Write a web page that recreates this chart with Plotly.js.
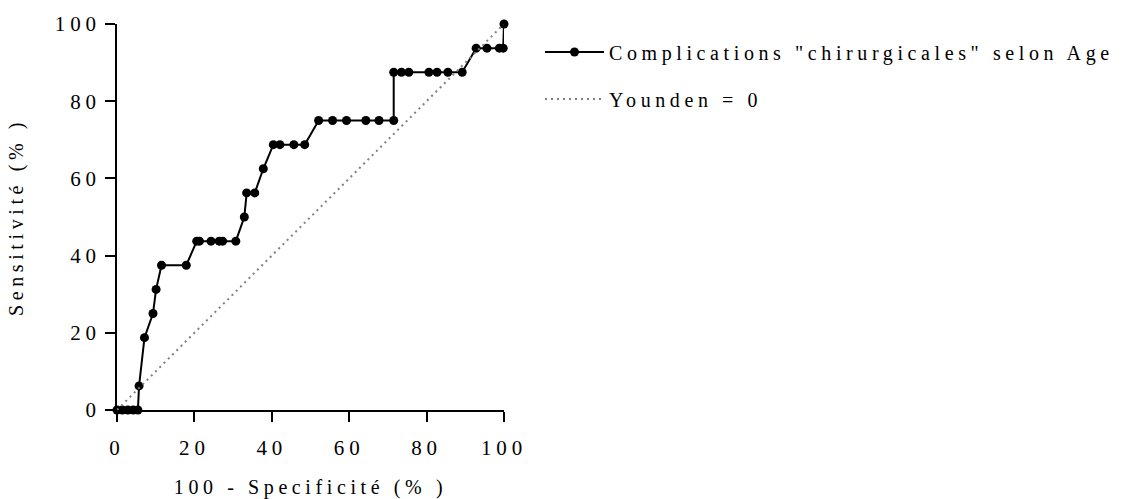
<!DOCTYPE html>
<html>
<head>
<meta charset="utf-8">
<script src="https://cdn.plot.ly/plotly-3.0.1.min.js"></script>
<style>
  html, body { margin: 0; padding: 0; background: #fff; }
  #chart { width: 1141px; height: 499px; }
  svg text { letter-spacing: 0.23em; }
</style>
</head>
<body>
<div id="chart"></div>
<script>
// ROC curve: 100 - Specificity (%) vs Sensitivity (%)
const fpr = [0, 1.4, 2.8, 4.2, 5.4, 5.7, 7.1, 9.3, 10.1, 11.5,
             17.9, 20.6, 21.3, 24.3, 26.4, 27.3, 30.7, 32.9, 33.5, 35.6,
             37.8, 40.4, 42.1, 45.7, 48.5, 52.1, 55.7, 59.3, 64.3, 67.7,
             71.5, 71.5, 73.5, 75.4, 80.6, 82.7, 85.5, 89.2, 92.8, 95.6,
             98.8, 99.8, 100];
const sens = [0, 0, 0, 0, 0, 6.25, 18.75, 25, 31.25, 37.5,
              37.5, 43.75, 43.75, 43.75, 43.75, 43.75, 43.75, 50, 56.25, 56.25,
              62.5, 68.75, 68.75, 68.75, 68.75, 75, 75, 75, 75, 75,
              75, 87.5, 87.5, 87.5, 87.5, 87.5, 87.5, 87.5, 93.75, 93.75,
              93.75, 93.75, 100];
const refX = [0, 100];
const refY = [0, 100];
const tickVals = [0, 20, 40, 60, 80, 100];
const tickText = ["0", "20", "40", "60", "80", "100"];
const seriesName = 'Complications "chirurgicales" selon Age';
const refName = "Younden = 0";
const xTitle = "100 - Specificité (% )";
const yTitle = "Sensitivité (% )";

const FONT = "Liberation Serif, Times New Roman, serif";
const W = 1141, H = 499;
const M = { l: 117, r: 637, t: 24, b: 89 };
const PW = W - M.l - M.r, PH = H - M.t - M.b;

const traces = [
  {
    x: fpr, y: sens, type: "scatter", mode: "lines+markers",
    name: seriesName, legend: "legend",
    line: { color: "#000", width: 2 },
    marker: { color: "#000", size: 9 },
    cliponaxis: false
  },
  {
    x: refX, y: refY, type: "scatter", mode: "lines",
    name: refName, legend: "legend2",
    line: { color: "#808080", width: 2, dash: "2px,4px" },
    cliponaxis: false
  }
];

function makeAxis(titleText, labelGap, titleGap) {
  return {
    range: [0, 100], autorange: false,
    tickmode: "array",
    tickvals: tickVals.slice(), ticktext: tickText.slice(),
    showline: true, linecolor: "#000", linewidth: 2,
    ticks: "outside", ticklen: 10, tickwidth: 2, tickcolor: "#000",
    showgrid: false, zeroline: false, automargin: false,
    ticklabelstandoff: labelGap,
    tickfont: { family: FONT, size: 21, color: "#000" },
    title: { text: titleText, standoff: titleGap, font: { family: FONT, size: 20, color: "#000" } }
  };
}

function makeLegend(yPix) {
  return {
    xref: "paper", yref: "paper",
    x: (540 - M.l) / PW, y: (H - M.b - yPix) / PH,
    xanchor: "left", yanchor: "middle",
    itemwidth: 59,
    bgcolor: "rgba(0,0,0,0)",
    font: { family: FONT, size: 20, color: "#000" }
  };
}

const layout = {
  width: W, height: H,
  paper_bgcolor: "#fff", plot_bgcolor: "#fff",
  margin: { l: M.l, r: M.r, t: M.t, b: M.b, autoexpand: false },
  font: { family: FONT, color: "#000" },
  showlegend: true,
  xaxis: makeAxis(xTitle, 8, 29),
  yaxis: makeAxis(yTitle, 0, 26),
  legend: makeLegend(52),
  legend2: makeLegend(99)
};

Plotly.newPlot("chart", traces, layout, { displayModeBar: false, staticPlot: true });
</script>
</body>
</html>
